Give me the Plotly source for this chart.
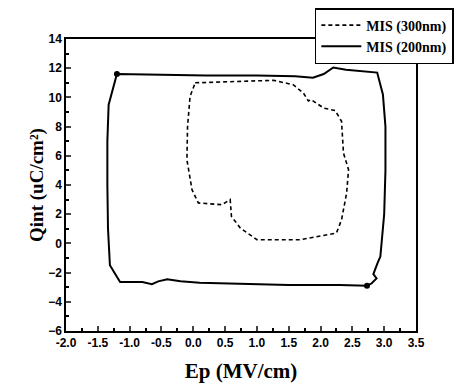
import plotly.graph_objects as go

# MIS (200nm) - solid loop
ep_200 = [-1.20, -0.60, 0.20, 1.00, 1.60, 1.88, 2.05, 2.20, 2.40, 2.89, 2.98, 3.02, 3.02, 3.00,
          2.94, 2.90, 2.83, 2.88, 2.80, 2.73, 2.30, 1.50, 0.50, 0.10, -0.20, -0.41, -0.55, -0.65,
          -0.80, -1.15, -1.31, -1.34, -1.35, -1.35, -1.33, -1.26, -1.20]
q_200 = [11.6, 11.55, 11.5, 11.5, 11.45, 11.35, 11.6, 12.05, 11.9, 11.7, 10.2, 8.0, 5.0, 2.0,
         -0.9, -1.3, -2.1, -2.4, -2.75, -2.9, -2.85, -2.85, -2.75, -2.7, -2.6, -2.45, -2.6, -2.8,
         -2.65, -2.65, -1.5, 1.0, 4.0, 7.0, 9.5, 10.7, 11.6]
# end-point dots on the 200nm loop (indices into the arrays above)
dot_idx = [0, 19]

# MIS (300nm) - dashed loop
ep_300 = [0.03, 0.60, 1.26, 1.57, 1.73, 1.81, 1.85, 2.05, 2.23, 2.33, 2.36, 2.44, 2.41, 2.33,
          2.25, 1.68, 1.00, 0.74, 0.60, 0.58, 0.45, 0.08, -0.02, -0.10, -0.09, -0.05, 0.03]
q_300 = [11.0, 11.1, 11.17, 10.87, 10.3, 9.75, 9.85, 9.27, 9.1, 8.36, 6.19, 5.05, 3.45, 1.62,
         0.71, 0.25, 0.25, 1.05, 1.85, 3.0, 2.65, 2.77, 3.68, 5.73, 8.01, 10.07, 11.0]

x_ticks = [-2.0, -1.5, -1.0, -0.5, 0.0, 0.5, 1.0, 1.5, 2.0, 2.5, 3.0, 3.5]
y_ticks = [-6, -4, -2, 0, 2, 4, 6, 8, 10, 12, 14]

fig = go.Figure()
fig.add_trace(go.Scatter(x=ep_300, y=q_300, mode="lines", name="MIS (300nm)",
                         line=dict(color="black", width=1.6, dash="4px,3px")))
fig.add_trace(go.Scatter(x=ep_200, y=q_200, mode="lines", name="MIS (200nm)",
                         line=dict(color="black", width=2)))
fig.add_trace(go.Scatter(x=[ep_200[i] for i in dot_idx], y=[q_200[i] for i in dot_idx],
                         mode="markers", marker=dict(color="black", size=6), showlegend=False))

tickfont = dict(family="Liberation Sans", size=12, color="black", weight="bold")
fig.update_xaxes(range=[-2.0, 3.5], tickvals=x_ticks, ticktext=[f"{v:.1f}" for v in x_ticks],
                 ticks="inside", ticklen=5, tickwidth=1.5, showline=True, linecolor="black",
                 linewidth=1.5, mirror=True, showgrid=False, zeroline=False, tickfont=tickfont,
                 automargin=False,
                 minor=dict(ticks="inside", ticklen=3, dtick=0.25, tickcolor="black", showgrid=False),
                 title=dict(text="Ep (MV/cm)", standoff=15,
                            font=dict(family="Liberation Serif", size=21, color="black", weight="bold")))
fig.update_yaxes(range=[-6, 14], tickvals=y_ticks, ticks="inside", ticklen=5, tickwidth=1.5,
                 showline=True, linecolor="black", linewidth=1.5, mirror=True, showgrid=False,
                 zeroline=False, tickfont=tickfont, automargin=False,
                 minor=dict(ticks="inside", ticklen=3, dtick=1, tickcolor="black", showgrid=False),
                 title=dict(text="Qint (uC/cm²)", standoff=0,
                            font=dict(family="Liberation Serif", size=19, color="black", weight="bold")))
fig.update_layout(width=470, height=383,
                  margin=dict(l=66, r=54, t=39, b=52, autoexpand=False),
                  plot_bgcolor="white", paper_bgcolor="white",
                  legend=dict(x=0.711, y=1.106, xanchor="left", yanchor="top",
                              bordercolor="black", borderwidth=1.5, bgcolor="white",
                              tracegroupgap=0, itemwidth=40,
                              font=dict(family="Liberation Serif", size=14, color="black", weight="bold")))
fig.write_html("out.html")
